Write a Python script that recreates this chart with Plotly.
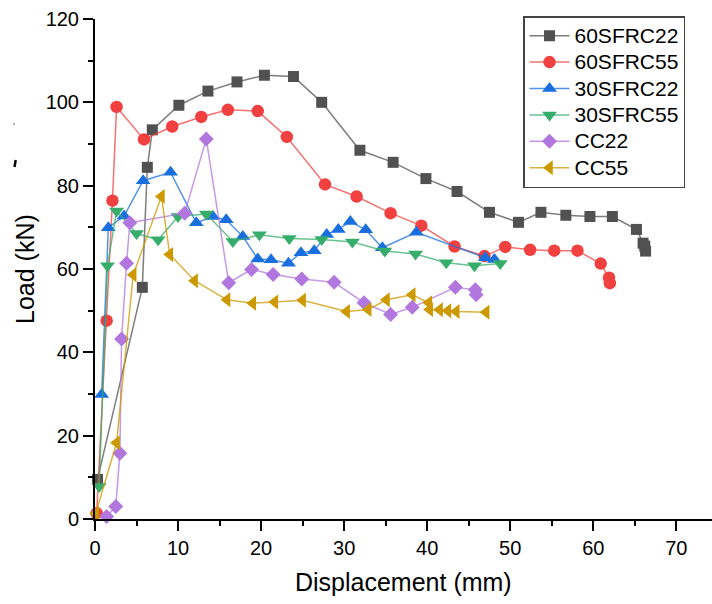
import plotly.graph_objects as go

# Load-displacement curves for each specimen (displacement in mm, load in kN)
disp_60sfrc22 = [0.3, 5.7, 6.3, 6.9, 10.1, 13.6, 17.1, 20.4, 23.9, 27.3, 31.9, 35.9,
                 39.85, 43.6, 47.5, 51.0, 53.7, 56.7, 59.6, 62.3, 65.2, 66.0, 66.2, 66.3]
load_60sfrc22 = [9.5, 55.6, 84.4, 93.4, 99.3, 102.7, 104.9, 106.5, 106.2, 100.0, 88.5, 85.6,
                 81.7, 78.6, 73.6, 71.2, 73.6, 72.9, 72.6, 72.6, 69.5, 66.2, 65.5, 64.3]

disp_60sfrc55 = [0.2, 1.4, 2.1, 2.6, 5.9, 9.3, 12.8, 16.0, 19.6, 23.1, 27.7, 31.5, 35.6,
                 39.3, 43.3, 46.9, 49.4, 52.4, 55.3, 58.1, 60.9, 61.9, 62.0]
load_60sfrc55 = [1.4, 47.6, 76.4, 98.9, 91.1, 94.2, 96.5, 98.2, 97.9, 91.7, 80.3, 77.4, 73.4,
                 70.4, 65.4, 63.1, 65.3, 64.6, 64.4, 64.4, 61.3, 57.9, 56.6]

disp_30sfrc22 = [0.8, 1.6, 3.5, 5.8, 9.1, 12.2, 14.2, 15.8, 17.8, 19.6, 21.2, 23.3, 24.8,
                 26.4, 27.9, 29.3, 30.75, 32.6, 34.6, 38.7, 47.0, 48.1]
load_30sfrc22 = [29.9, 69.9, 72.7, 81.2, 83.2, 71.1, 72.6, 71.8, 67.8, 62.4, 62.2, 61.4, 63.9,
                 64.4, 68.3, 69.5, 71.4, 69.4, 65.1, 68.8, 62.7, 62.3]

disp_30sfrc55 = [0.5, 1.5, 2.6, 5.0, 7.6, 10.0, 13.4, 16.6, 19.8, 23.4, 27.3, 31.0, 34.9,
                 38.6, 42.3, 45.7, 48.8]
load_30sfrc55 = [7.8, 60.8, 73.9, 68.5, 67.0, 72.6, 73.2, 66.6, 68.2, 67.3, 67.1, 66.5, 64.3,
                 63.6, 61.5, 60.8, 61.3]

disp_cc22 = [1.4, 2.5, 3.0, 3.2, 3.8, 4.2, 10.8, 13.4, 16.1, 18.85, 21.45, 24.9, 28.8,
             32.4, 35.6, 38.2, 43.4, 45.8, 45.9]
load_cc22 = [0.6, 3.0, 15.8, 43.2, 61.4, 71.1, 73.4, 91.2, 56.7, 59.9, 58.7, 57.6, 56.8,
             51.9, 49.1, 50.8, 55.6, 55.0, 53.8]

disp_cc55 = [0.1, 2.6, 4.6, 8.0, 9.0, 12.0, 15.9, 19.0, 21.65, 25.0, 30.3, 32.9, 35.1,
             38.2, 40.2, 40.3, 41.5, 42.5, 43.5, 47.1]
load_cc55 = [1.4, 18.3, 58.6, 77.4, 63.5, 57.2, 52.6, 51.8, 52.1, 52.5, 49.8, 50.3, 52.6,
             53.8, 51.9, 50.3, 50.2, 50.0, 49.8, 49.6]

series_names = ["60SFRC22", "60SFRC55", "30SFRC22", "30SFRC55", "CC22", "CC55"]
series_x = [disp_60sfrc22, disp_60sfrc55, disp_30sfrc22, disp_30sfrc55, disp_cc22, disp_cc55]
series_y = [load_60sfrc22, load_60sfrc55, load_30sfrc22, load_30sfrc55, load_cc22, load_cc55]

x_ticks = [0, 10, 20, 30, 40, 50, 60, 70]
y_ticks = [0, 20, 40, 60, 80, 100, 120]

# Marker and colour styling per series
styles = [
    dict(color="81,81,81", symbol="square", size=11),
    dict(color="241,64,64", symbol="circle", size=12.5),
    dict(color="26,111,223", symbol="triangle-up", size=13),
    dict(color="55,173,107", symbol="triangle-down", size=13),
    dict(color="177,119,222", symbol="diamond", size=11.5),
    dict(color="204,153,0", symbol="triangle-left", size=13),
]

FONT = "Arial, Liberation Sans, sans-serif"

fig = go.Figure()
for name, xs, ys, st in zip(series_names, series_x, series_y, styles):
    fig.add_trace(go.Scatter(
        x=xs, y=ys, mode="lines+markers",
        # larger glyphs inside a tighter legend row
        name=f'<span style="font-size:21px">{name}</span>',
        line=dict(color=f"rgba({st['color']},0.75)", width=1.5),
        marker=dict(color=f"rgb({st['color']})", symbol=st["symbol"], size=st["size"],
                    line=dict(width=0)),
        cliponaxis=False,
    ))

axis_common = dict(
    showline=True, linecolor="black", linewidth=2, mirror=False,
    ticks="outside", ticklen=10, tickwidth=2, tickcolor="black",
    showgrid=False, zeroline=False,
    tickfont=dict(family=FONT, size=20, color="black"),
)

fig.update_xaxes(range=[0, 74.3], tickvals=x_ticks,
                 minor=dict(ticks="outside", ticklen=5, tickwidth=2, tickcolor="black", dtick=5, tick0=0),
                 **axis_common)
fig.update_yaxes(range=[0, 120], tickvals=y_ticks,
                 minor=dict(ticks="outside", ticklen=5, tickwidth=2, tickcolor="black", dtick=10, tick0=0),
                 **axis_common)

fig.add_annotation(text="Displacement (mm)", xref="paper", yref="paper", x=0.5, y=-0.126,
                   xanchor="center", yanchor="middle", showarrow=False,
                   font=dict(family=FONT, size=25, color="black"))
fig.add_annotation(text="Load (kN)", xref="paper", yref="paper", x=-0.1135, y=0.5,
                   xanchor="center", yanchor="middle", showarrow=False, textangle=-90,
                   font=dict(family=FONT, size=25, color="black"))

# small stray ink marks to the left of the axis
fig.add_shape(type="line", xref="paper", yref="paper", x0=-0.1285, y0=0.718, x1=-0.1305, y1=0.704,
              line=dict(color="black", width=2.5))
fig.add_shape(type="rect", xref="paper", yref="paper", x0=-0.1320, y0=0.788, x1=-0.1305, y1=0.792,
              line=dict(width=0), fillcolor="#555555")

fig.update_layout(
    width=712, height=604,
    margin=dict(l=95, r=0, t=19, b=85),
    paper_bgcolor="white", plot_bgcolor="white",
    showlegend=True,
    legend=dict(x=0.6937, y=1.006, xanchor="left", yanchor="top",
                bordercolor="#444444", borderwidth=1.5, bgcolor="white",
                font=dict(family=FONT, size=18, color="black"),
                tracegroupgap=0, itemwidth=40),
)

fig.write_html("out.html")
